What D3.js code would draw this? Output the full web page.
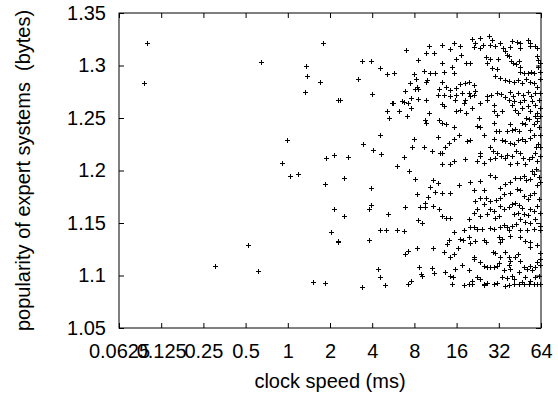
<!DOCTYPE html>
<html>
<head>
<meta charset="utf-8">
<script src="https://cdn.jsdelivr.net/npm/d3@7"></script>
<style>
  body { margin: 0; background: #fff; }
  text { font-family: "Liberation Sans", Arial, Helvetica, sans-serif; fill: #000; }
</style>
</head>
<body>
<div id="chart"></div>
<script>
// tick labels
const xTicks = [0.0625, 0.125, 0.25, 0.5, 1, 2, 4, 8, 16, 32, 64];
const yTicks = [1.05, 1.1, 1.15, 1.2, 1.25, 1.3, 1.35];
const xTitle = 'clock speed (ms)';
const yTitle = 'popularity of expert systems  (bytes)';

// [clock speed (ms), popularity (bytes)]
const sparse = [
  [0.099,1.321],[0.095,1.283],[0.302,1.109],[0.52,1.129],[0.609,1.104],[0.64,1.303],[0.914,1.207],
  [0.987,1.229],[1.03,1.195],[1.18,1.197],[1.32,1.275],[1.34,1.300],[1.37,1.290],[1.52,1.094],
  [1.705,1.284],[1.78,1.321],[1.83,1.187],[1.84,1.093],[1.87,1.212],[2.03,1.141],[2.12,1.215],
  [2.15,1.163],[2.27,1.267],[2.28,1.133],[2.28,1.132],[2.36,1.267],[2.50,1.157],[2.53,1.193],
  [2.71,1.213],[3.15,1.287],[3.40,1.304],[3.40,1.089],[3.42,1.225],[3.79,1.163],[3.81,1.134],
  [3.92,1.167],[3.94,1.304],[3.94,1.183],[3.99,1.273],[4.05,1.220],[4.42,1.106],[4.55,1.298],
  [4.55,1.234],[4.55,1.143],[4.57,1.099],[4.59,1.216],[4.96,1.091],[5.02,1.143],[5.07,1.257],
  [5.10,1.292],[5.19,1.159],[5.24,1.250],[5.54,1.264],[5.62,1.264],[5.68,1.293],[5.97,1.204],
  [5.97,1.143],[6.24,1.257]
];

const middle = [
  [7.00,1.315],[10.1,1.319],[9.73,1.312],[10.97,1.312],[8.43,1.305],[7.89,1.292],[9.30,1.295],
  [10.27,1.293],[11.15,1.293],[8.25,1.287],[7.48,1.283],[9.84,1.286],[9.68,1.284],[8.35,1.280],
  [8.48,1.278],[8.14,1.278],[6.86,1.276],[11.9,1.278],[11.8,1.272],[7.56,1.269],[8.43,1.268],
  [9.73,1.267],[6.56,1.266],[6.78,1.265],[7.16,1.264],[7.60,1.260],[7.04,1.252],[10.1,1.255],
  [9.57,1.248],[9.68,1.245],[11.9,1.248],[7.89,1.230],[11.8,1.232],[7.69,1.222],[9.41,1.222],
  [10.7,1.219],[12.1,1.217],[6.70,1.213],
  [7.27,1.200],[8.12,1.192],[10.86,1.191],[10.27,1.184],[11.7,1.188],[11.3,1.180],[8.35,1.178],
  [10.0,1.175],[11.9,1.163],[9.46,1.169],[9.46,1.165],[8.82,1.165],[10.8,1.166],[6.86,1.165],
  [8.53,1.153],[9.11,1.150],[6.74,1.142],[7.20,1.123],[6.89,1.120],[8.29,1.126],[10.86,1.126],
  [8.57,1.108],[10.7,1.107],[8.92,1.101],[9.0,1.100],[11.0,1.102],[7.56,1.095],[7.16,1.092]
];

const denseTop = [
  [12.58,1.320],[15.23,1.321],[17.0,1.319],[14.42,1.316],[20.58,1.325],[21.74,1.321],[23.61,1.326],
  [24.66,1.320],[23.35,1.317],[21.15,1.318],[27.07,1.328],[28.59,1.324],[27.82,1.320],[30.2,1.319],
  [32.79,1.321],[34.24,1.317],[35.57,1.314],[36.58,1.310],[38.64,1.318],[39.7,1.323],[43.12,1.322],
  [45.03,1.321],[51.36,1.324],[53.66,1.321],[53.07,1.319],[45.54,1.317],[58.24,1.319],[59.85,1.317],
  [17.19,1.310],[15.9,1.306],[18.76,1.302],[20.03,1.302],[12.58,1.302],[12.92,1.294],[15.23,1.293],
  [14.82,1.299],[26.05,1.308],[27.52,1.306],[26.34,1.302],[28.59,1.298],[31.03,1.297],[31.37,1.306],
  [37.59,1.309],[39.06,1.304],[40.36,1.302],[42.64,1.301],[44.3,1.304],[45.54,1.299],[45.03,1.294],
  [48.1,1.293],[51.36,1.293],[54.25,1.294],[57.3,1.293],[60.51,1.299],[59.85,1.309],[60.51,1.305],
  [62.52,1.302],[63.2,1.294],[30.2,1.290],[32.79,1.288],[35.57,1.286],[37.59,1.285],[40.82,1.284],
  [43.58,1.286],[46.8,1.283],[50.25,1.287],[53.07,1.284],[57.3,1.283],[59.85,1.280],[62.52,1.287],
  [12.58,1.284],[13.5,1.280],[14.26,1.277],[15.9,1.279],[16.8,1.282],[18.45,1.283],[19.49,1.284],
  [21.15,1.281],[21.74,1.276],[19.49,1.274],[17.47,1.274],[15.9,1.272],[14.42,1.271],[12.92,1.272],
  [19.81,1.271],[21.15,1.272],[26.34,1.271],[28.13,1.272],[31.03,1.274],[33.14,1.273],[35.57,1.270],
  [38.64,1.275],[40.36,1.271],[43.58,1.274],[47.57,1.272],[51.36,1.275],[54.25,1.271],[58.24,1.274],
  [62.52,1.274]
];

const denseUpperMid = [
  [12.58,1.263],[12.92,1.261],[15.65,1.267],[15.9,1.257],[17.0,1.258],[17.95,1.264],[18.45,1.267],
  [18.76,1.255],[20.58,1.260],[23.61,1.264],[26.34,1.267],[29.38,1.262],[29.7,1.257],[31.03,1.253],
  [33.68,1.257],[37.59,1.267],[39.7,1.262],[40.82,1.266],[41.95,1.258],[43.58,1.255],[45.54,1.265],
  [46.8,1.260],[48.1,1.267],[51.36,1.261],[53.66,1.257],[55.14,1.266],[58.24,1.262],[59.85,1.255],
  [61.51,1.267],[62.52,1.260],[62.52,1.252],[12.58,1.245],[13.5,1.244],[15.4,1.241],[16.53,1.234],
  [15.23,1.230],[14.03,1.226],[13.28,1.222],[12.58,1.217],[18.96,1.228],[19.81,1.229],[22.97,1.250],
  [22.35,1.242],[23.61,1.241],[24.94,1.234],[29.38,1.245],[31.88,1.238],[30.69,1.238],[36.58,1.238],
  [38.64,1.244],[39.7,1.239],[41.95,1.240],[44.3,1.238],[46.8,1.245],[49.43,1.244],[50.25,1.250],
  [52.21,1.249],[53.66,1.239],[57.3,1.244],[58.24,1.252],[59.85,1.247],[61.51,1.241],[62.52,1.234],
  [57.3,1.234],[53.66,1.231],[49.43,1.228],[46.8,1.230],[43.58,1.229],[40.82,1.225],[38.64,1.226],
  [35.57,1.228],[33.68,1.229],[29.38,1.230],[29.06,1.219],[31.03,1.217],[27.82,1.222],[23.61,1.217],
  [23.35,1.214],[22.35,1.209],[18.45,1.211],[15.23,1.209],[14.42,1.206],[12.58,1.206],[25.21,1.207],
  [27.82,1.211],[30.2,1.212],[33.14,1.214],[35.57,1.212],[36.58,1.215],[39.7,1.214],[42.64,1.219],
  [45.54,1.217],[47.57,1.212],[52.21,1.211],[55.14,1.213],[58.24,1.217],[59.2,1.222],[60.51,1.225],
  [62.52,1.222],[62.52,1.214],[59.85,1.209],[49.43,1.206],[43.12,1.207],[38.64,1.206]
];

const denseLowerMid = [
  [16.53,1.186],[20.03,1.189],[23.61,1.190],[27.52,1.196],[30.2,1.194],[12.58,1.179],[14.42,1.179],
  [21.38,1.181],[24.94,1.181],[32.79,1.183],[35.57,1.187],[38.64,1.189],[41.95,1.193],[45.54,1.193],
  [48.1,1.195],[50.25,1.191],[53.07,1.192],[55.14,1.200],[57.3,1.197],[59.2,1.201],[61.51,1.194],
  [62.52,1.189],[59.85,1.186],[56.67,1.179],[53.66,1.177],[51.36,1.173],[48.1,1.176],[45.54,1.181],
  [43.12,1.182],[38.64,1.179],[34.61,1.178],[32.41,1.174],[30.69,1.172],[27.82,1.171],[26.05,1.174],
  [23.61,1.174],[21.74,1.171],[24.94,1.168],[22.35,1.163],[21.15,1.160],[23.61,1.157],[26.34,1.159],
  [27.82,1.163],[29.38,1.161],[31.88,1.157],[30.2,1.155],[32.79,1.166],[34.61,1.163],[37.59,1.165],
  [39.7,1.168],[41.95,1.169],[44.3,1.167],[46.8,1.164],[43.58,1.160],[41.27,1.159],[48.1,1.159],
  [51.36,1.158],[53.66,1.163],[56.67,1.161],[59.85,1.166],[61.51,1.173],[62.52,1.160],[58.24,1.154],
  [53.66,1.150],[49.43,1.151],[45.54,1.154],[42.64,1.149],[39.7,1.147],[36.58,1.146],[34.61,1.148],
  [32.41,1.146],[29.38,1.144],[27.82,1.145],[24.26,1.144],[22.35,1.144],[21.15,1.146],[20.03,1.146],
  [17.95,1.143],[15.23,1.141],[12.58,1.157],[13.5,1.155],[14.42,1.155],[19.49,1.154],[62.52,1.147],
  [62.52,1.143],[56.67,1.144],[50.8,1.143],[45.54,1.143],[37.59,1.143]
];

const denseBottom = [
  [14.03,1.134],[13.65,1.130],[17.0,1.135],[17.75,1.134],[19.49,1.137],[20.03,1.131],[21.74,1.133],
  [24.94,1.134],[26.05,1.132],[31.88,1.137],[33.68,1.135],[32.79,1.132],[38.64,1.138],[45.54,1.137],
  [49.43,1.133],[53.07,1.132],[53.66,1.127],[59.85,1.129],[62.52,1.121],[62.52,1.116],[12.92,1.122],
  [14.42,1.118],[15.23,1.120],[16.27,1.126],[21.15,1.118],[21.38,1.116],[23.61,1.113],[24.94,1.109],
  [26.34,1.108],[27.82,1.108],[29.38,1.108],[31.03,1.109],[31.88,1.112],[29.06,1.122],[30.2,1.121],
  [32.79,1.118],[35.57,1.122],[37.59,1.118],[38.64,1.114],[41.95,1.118],[43.58,1.120],[45.54,1.114],
  [37.59,1.110],[38.64,1.106],[34.61,1.105],[33.68,1.099],[36.58,1.098],[39.7,1.100],[40.82,1.097],
  [44.3,1.103],[48.1,1.108],[50.8,1.106],[53.07,1.109],[55.14,1.105],[58.24,1.108],[59.85,1.113],
  [62.52,1.110],[61.51,1.100],[58.24,1.099],[53.66,1.095],[49.43,1.099],[46.8,1.094],[44.3,1.092],
  [40.82,1.092],[37.59,1.091],[35.57,1.090],[31.03,1.093],[29.38,1.092],[26.34,1.093],[24.94,1.092],
  [25.21,1.091],[23.61,1.097],[22.35,1.099],[20.58,1.095],[17.47,1.110],[15.65,1.106],[13.28,1.103],
  [14.42,1.100],[15.06,1.099],[19.49,1.105],[14.82,1.092],[17.95,1.091],[19.49,1.092],[20.58,1.092],
  [48.1,1.092],[52.21,1.092],[56.67,1.092],[59.85,1.092],[62.52,1.092]
];

const samples = [].concat(sparse, middle, denseTop, denseUpperMid, denseLowerMid, denseBottom);

const margin = { top: 13, right: 17, bottom: 67, left: 119 };
const width = 558 - margin.left - margin.right;
const height = 395 - margin.top - margin.bottom;

const svg = d3.select('#chart').append('svg')
  .attr('width', 558)
  .attr('height', 395)
  .append('g')
  .attr('transform', `translate(${margin.left},${margin.top})`);

const x = d3.scaleLog().base(2)
  .domain([0.0625, 64])
  .range([0, width]);

const y = d3.scaleLinear()
  .domain([1.05, 1.35])
  .range([height, 0]);

// axes, ticks pointing inwards like gnuplot
const styleAxis = g => {
  g.select('.domain').remove();
  g.selectAll('.tick line').attr('stroke', '#000');
  g.selectAll('text').style('font-size', '20px').attr('fill', '#000');
};

svg.append('g')
  .attr('transform', `translate(0,${height})`)
  .call(d3.axisBottom(x).tickValues(xTicks).tickFormat(d => String(d))
    .tickSizeInner(-5).tickSizeOuter(0).tickPadding(16))
  .call(styleAxis);

svg.append('g')
  .call(d3.axisTop(x).tickValues(xTicks).tickFormat('')
    .tickSizeInner(-5).tickSizeOuter(0))
  .call(styleAxis);

svg.append('g')
  .call(d3.axisLeft(y).tickValues(yTicks).tickFormat(d => String(d))
    .tickSizeInner(-5).tickSizeOuter(0).tickPadding(13))
  .call(styleAxis);

svg.append('g')
  .attr('transform', `translate(${width},0)`)
  .call(d3.axisRight(y).tickValues(yTicks).tickFormat('')
    .tickSizeInner(-5).tickSizeOuter(0))
  .call(styleAxis);

svg.append('rect')
  .attr('width', width)
  .attr('height', height)
  .attr('fill', 'none')
  .attr('stroke', '#000')
  .attr('stroke-width', 1);

// the + marks
svg.append('g')
  .selectAll('path')
  .data(samples)
  .enter().append('path')
  .attr('d', d => {
    const px = Math.round(x(d[0])) + 0.5;
    const py = Math.round(y(d[1])) + 0.5;
    return `M${px - 2.5},${py}h5M${px},${py - 2.5}v5`;
  })
  .attr('stroke', '#000')
  .attr('stroke-width', 1)
  .attr('fill', 'none');

svg.append('text')
  .attr('x', width / 2)
  .attr('y', height + 60)
  .attr('text-anchor', 'middle')
  .style('font-size', '20px')
  .text(xTitle);

svg.append('text')
  .attr('transform', `translate(${30 - margin.left},${height / 2}) rotate(-90)`)
  .attr('text-anchor', 'middle')
  .style('font-size', '20px')
  .text(yTitle)
  .style('white-space', 'pre');
</script>
</body>
</html>
